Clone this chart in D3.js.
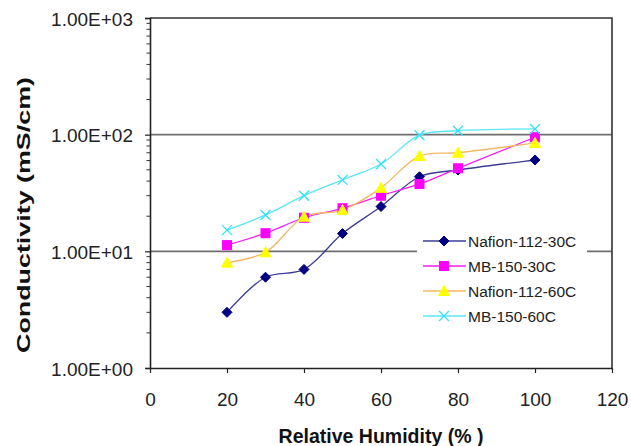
<!DOCTYPE html>
<html>
<head>
<meta charset="utf-8">
<script src="https://cdn.jsdelivr.net/npm/d3@7/dist/d3.min.js"></script>
<style>
  html, body { margin: 0; padding: 0; background: #fff; }
  svg { display: block; font-family: Arial, "Liberation Sans", sans-serif; }
</style>
</head>
<body>
<svg id="chart" width="631" height="446"></svg>
<script>
// ---- data ----
const humidity = [20, 30, 40, 50, 60, 70, 80, 100];
const nafion30 = [3.0, 6.0, 7.0, 14.2, 24.2, 43.6, 49.8, 60.7];
const mb30     = [11.3, 14.3, 19.4, 23.4, 30.0, 37.8, 51.5, 95.0];
const nafion60 = [8.0, 9.8, 19.8, 22.6, 35.0, 65.6, 70.0, 85.0];
const mb60     = [15.2, 20.5, 30.0, 41.0, 56.0, 99.0, 108.0, 112.0];
const seriesNames = ["Nafion-112-30C", "MB-150-30C", "Nafion-112-60C", "MB-150-60C"];
const xTicks = [0, 20, 40, 60, 80, 100, 120];
const yTicks = [1, 10, 100, 1000];
const yTickLabels = ["1.00E+00", "1.00E+01", "1.00E+02", "1.00E+03"];
const xTitle = "Relative Humidity (% )";
const yTitle = "Conductivity (mS/cm)";

const seriesValues = [nafion30, mb30, nafion60, mb60];
const styles = [
  { line: "#3c3c96", fill: "#000080", stroke: "#000080", shape: "diamond" },
  { line: "#f020f0", fill: "#ff00ff", stroke: "#ff00ff", shape: "square" },
  { line: "#f4b864", fill: "#ffff00", stroke: "#ffff00", shape: "triangle" },
  { line: "#5ce6f4", fill: "none",    stroke: "#33e0f8", shape: "cross" }
];

const svg = d3.select("#chart");
const W = 631, H = 446;
const m = { left: 150, right: 19, top: 18, bottom: 78 };
const x = d3.scaleLinear().domain([0, 120]).range([m.left, W - m.right]);
const y = d3.scaleLog().domain([1, 1000]).range([H - m.bottom, m.top]);

// gridlines at 10 and 100
svg.append("g").selectAll("line").data([10, 100]).join("line")
  .attr("x1", x(0)).attr("x2", x(120))
  .attr("y1", d => y(d)).attr("y2", d => y(d))
  .attr("stroke", "#6e6e6e").attr("stroke-width", 1.6);

// plot box (top & right)
svg.append("path")
  .attr("d", `M${x(0)},${y(1000)}H${x(120)}V${y(1)}`)
  .attr("fill", "none").attr("stroke", "#333").attr("stroke-width", 1.6);

// minor y ticks
const minor = [];
[1, 10, 100].forEach(dec => { for (let k = 2; k <= 9; k++) minor.push(dec * k); });
svg.append("g").selectAll("line").data(minor).join("line")
  .attr("x1", x(0) - 3.5).attr("x2", x(0))
  .attr("y1", d => y(d)).attr("y2", d => y(d))
  .attr("stroke", "#333").attr("stroke-width", 1);

// y axis
const yAxis = d3.axisLeft(y).tickValues(yTicks).tickSize(5).tickPadding(12)
  .tickFormat((d, i) => yTickLabels[i]);
const gy = svg.append("g").attr("transform", `translate(${x(0)},0)`).call(yAxis);
gy.select(".domain").attr("stroke", "#222").attr("stroke-width", 1.6);
gy.selectAll(".tick line").attr("stroke", "#222").attr("stroke-width", 1.2);
gy.selectAll(".tick text").attr("font-size", 19).attr("fill", "#222")
  .attr("font-family", "Arial, 'Liberation Sans', sans-serif").attr("dy", "0.38em");

// x axis
const xAxis = d3.axisBottom(x).tickValues(xTicks).tickSize(5).tickPadding(20).tickSizeOuter(0);
const gx = svg.append("g").attr("transform", `translate(0,${y(1)})`).call(xAxis);
gx.select(".domain").attr("stroke", "#222").attr("stroke-width", 1.6);
gx.selectAll(".tick line").attr("stroke", "#222").attr("stroke-width", 1.2);
gx.selectAll(".tick text").attr("font-size", 19).attr("fill", "#222")
  .attr("font-family", "Arial, 'Liberation Sans', sans-serif");

// axis titles
svg.append("text")
  .attr("x", (x(0) + x(120)) / 2 + 0).attr("y", 443)
  .attr("text-anchor", "middle").attr("font-weight", "bold").attr("font-size", 19.5)
  .attr("fill", "#111").text(xTitle);
svg.append("text")
  .attr("transform", `translate(30,${215}) rotate(-90)`)
  .attr("text-anchor", "middle").attr("font-weight", "bold").attr("font-size", 19)
  .attr("textLength", 276).attr("lengthAdjust", "spacingAndGlyphs")
  .attr("fill", "#111").text(yTitle);

// marker drawing
function drawMarker(g, shape, st) {
  if (shape === "diamond") {
    g.append("path").attr("d", "M0,-5L5,0L0,5L-5,0Z").attr("fill", st.fill).attr("stroke", st.stroke);
  } else if (shape === "square") {
    g.append("rect").attr("x", -4.5).attr("y", -4.5).attr("width", 9).attr("height", 9)
      .attr("fill", st.fill).attr("stroke", st.stroke);
  } else if (shape === "triangle") {
    g.append("path").attr("d", "M0,-5.5L5.5,4.5L-5.5,4.5Z").attr("fill", st.fill).attr("stroke", st.stroke);
  } else {
    g.append("path").attr("d", "M-5,-5L5,5M-5,5L5,-5").attr("fill", "none")
      .attr("stroke", st.stroke).attr("stroke-width", 1.3);
  }
}

const line = d3.line().x(d => x(d[0])).y(d => y(d[1])).curve(d3.curveCatmullRom.alpha(0.5));

seriesValues.forEach((vals, si) => {
  const pts = humidity.map((h, i) => [h, vals[i]]);
  const st = styles[si];
  svg.append("path").datum(pts).attr("d", line)
    .attr("fill", "none").attr("stroke", st.line).attr("stroke-width", 1.3);
});
seriesValues.forEach((vals, si) => {
  const pts = humidity.map((h, i) => [h, vals[i]]);
  const st = styles[si];
  pts.forEach(p => {
    const g = svg.append("g").attr("transform", `translate(${x(p[0])},${y(p[1])})`);
    drawMarker(g, st.shape, st);
  });
});

// legend
const lg = svg.append("g");
lg.append("rect").attr("x", 417).attr("y", 228).attr("width", 170).attr("height", 102).attr("fill", "#fff");
seriesNames.forEach((name, i) => {
  const cy = 241 + i * 25;
  const st = styles[i];
  lg.append("line").attr("x1", 423).attr("x2", 466).attr("y1", cy).attr("y2", cy)
    .attr("stroke", st.line).attr("stroke-width", 1.3);
  const g = lg.append("g").attr("transform", `translate(444,${cy})`);
  drawMarker(g, st.shape, st);
  lg.append("text").attr("x", 468).attr("y", cy).attr("dy", "0.36em")
    .attr("font-size", 15.5).attr("fill", "#222").text(name);
});
</script>
</body>
</html>
